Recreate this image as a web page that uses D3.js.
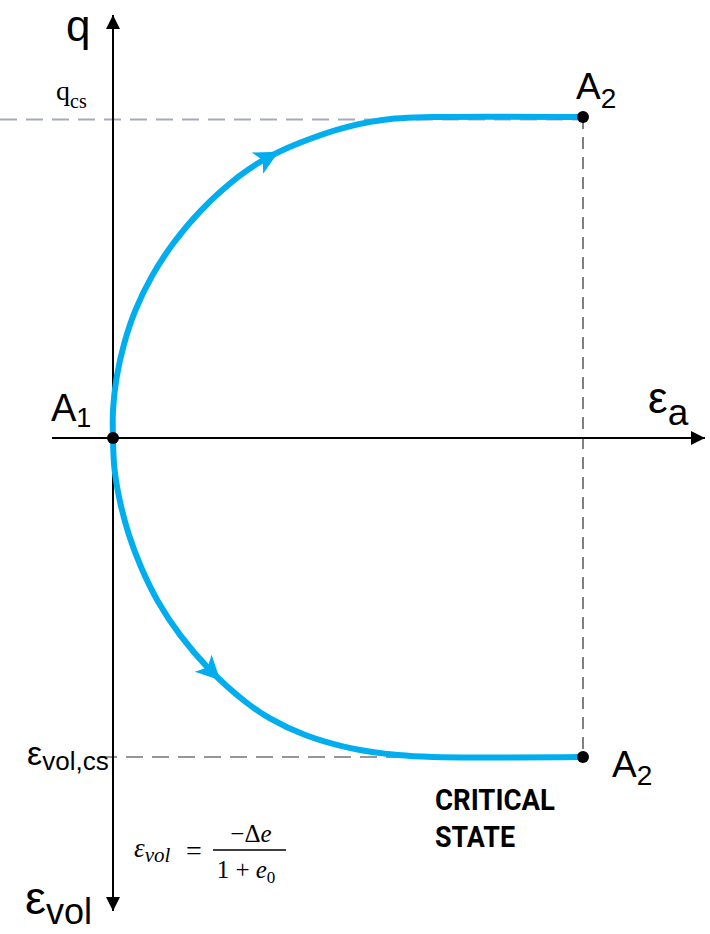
<!DOCTYPE html>
<html><head><meta charset="utf-8">
<script src="https://cdn.jsdelivr.net/npm/d3@7"></script>
<style>body{margin:0;background:#fff}svg{display:block}</style>
</head><body>
<script>
// normalized axial strain (x) vs deviator stress q (upper branch)
const upperX = [0, 0, 0.008, 0.024, 0.048, 0.082, 0.128, 0.188, 0.267, 0.320, 0.395, 0.501, 0.600, 0.68, 1.0];
const upperQ = [0, 0.087, 0.191, 0.295, 0.399, 0.502, 0.606, 0.710, 0.814, 0.866, 0.918, 0.970, 0.995, 1.0, 1.0];
// normalized axial strain (x) vs volumetric strain (lower branch)
const lowerX = [0, 0.003, 0.015, 0.034, 0.061, 0.096, 0.143, 0.203, 0.281, 0.334, 0.409, 0.508, 0.607, 0.68, 1.0];
const lowerV = [0, 0.095, 0.200, 0.304, 0.409, 0.513, 0.618, 0.722, 0.826, 0.879, 0.931, 0.973, 0.994, 1.0, 1.0];
const arrowAtX = [0.33, 0.21]; // arrow positions along each branch

const W = 710, H = 934;
const svg = d3.select("body").append("svg").attr("width", W).attr("height", H);

const x = d3.scaleLinear().domain([0, 1]).range([113, 583]);
const yq = d3.scaleLinear().domain([0, 1]).range([438, 117]);
const yv = d3.scaleLinear().domain([0, 1]).range([438, 757]);

const defs = svg.append("defs");
defs.append("marker").attr("id","ah").attr("viewBox","0 0 10 10").attr("refX",10).attr("refY",5)
  .attr("markerWidth",14).attr("markerHeight",14).attr("markerUnits","userSpaceOnUse").attr("orient","auto")
  .append("path").attr("d","M0,0 L10,5 L0,10 Z").attr("fill","#000");

// dashed guide lines
svg.append("line").attr("x1",0).attr("x2",x(1)).attr("y1",yq(1)+2.5).attr("y2",yq(1)+2.5)
  .attr("stroke","#A4ACB8").attr("stroke-width",2.2).attr("stroke-dasharray","17,9");
svg.append("line").attr("x1",x(1)).attr("x2",x(1)).attr("y1",yq(1)).attr("y2",yv(1))
  .attr("stroke","#808080").attr("stroke-width",2).attr("stroke-dasharray","12,8");
svg.append("line").attr("x1",100).attr("x2",x(1)).attr("y1",yv(1)).attr("y2",yv(1))
  .attr("stroke","#969696").attr("stroke-width",2.2).attr("stroke-dasharray","17,9");

// axes
svg.append("line").attr("x1",52).attr("x2",705).attr("y1",yq(0)).attr("y2",yq(0))
  .attr("stroke","#000").attr("stroke-width",2).attr("marker-end","url(#ah)");
svg.append("line").attr("x1",x(0)).attr("x2",x(0)).attr("y1",yq(0)).attr("y2",15)
  .attr("stroke","#000").attr("stroke-width",2).attr("marker-end","url(#ah)");
svg.append("line").attr("x1",x(0)).attr("x2",x(0)).attr("y1",yq(0)).attr("y2",911)
  .attr("stroke","#000").attr("stroke-width",2).attr("marker-end","url(#ah)");

const blue = "#00AEEF";
const lineQ = d3.line().x(d => x(d[0])).y(d => yq(d[1])).curve(d3.curveCatmullRom.alpha(0.5));
const lineV = d3.line().x(d => x(d[0])).y(d => yv(d[1])).curve(d3.curveCatmullRom.alpha(0.5));

const up = svg.append("path").datum(d3.zip(upperX, upperQ)).attr("d", lineQ)
  .attr("fill","none").attr("stroke",blue).attr("stroke-width",6);
const lo = svg.append("path").datum(d3.zip(lowerX, lowerV)).attr("d", lineV)
  .attr("fill","none").attr("stroke",blue).attr("stroke-width",6);

function arrowOn(pathSel, xv) {
  const node = pathSel.node(), L = node.getTotalLength();
  const tx = x(xv);
  let a = 0, b = L;
  for (let i = 0; i < 40; i++) { const m = (a + b) / 2; if (node.getPointAtLength(m).x < tx) a = m; else b = m; }
  const p = node.getPointAtLength(a), q = node.getPointAtLength(Math.min(L, a + 2));
  const ang = Math.atan2(q.y - p.y, q.x - p.x) * 180 / Math.PI;
  svg.append("path").attr("d","M12,0 L-12,-12 L-6,0 L-12,12 Z").attr("fill",blue)
    .attr("transform",`translate(${p.x},${p.y}) rotate(${ang})`);
}
arrowOn(up, arrowAtX[0]);
arrowOn(lo, arrowAtX[1]);

// points
[[x(0), yq(0)], [x(1), yq(1)], [x(1), yv(1)]].forEach(([cx, cy]) =>
  svg.append("circle").attr("cx",cx).attr("cy",cy).attr("r",6).attr("fill","#000"));

const sans = "Liberation Sans, Arial, sans-serif";
function sub(tx, ty, main, s, size, subSize, dy, family) {
  const t = svg.append("text").attr("x",tx).attr("y",ty).attr("font-family",family || sans)
    .attr("font-size",size).attr("fill","#000");
  t.append("tspan").text(main);
  t.append("tspan").attr("font-size",subSize).attr("dy",dy).text(s);
  return t;
}
svg.append("text").attr("x",66).attr("y",41).attr("font-family",sans).attr("font-size",44).text("q");
sub(56, 100, "q", "cs", 28, 20, 8, "Liberation Serif, serif");
sub(576, 99, "A", "2", 37, 28, 9);
sub(51, 421, "A", "1", 38, 27, 6);
sub(648, 413, "ε", "a", 44, 37, 12);
sub(27, 765, "ε", "vol,cs", 34, 26, 5);
sub(612, 777, "A", "2", 37, 28, 8);
sub(25, 914, "ε", "vol", 47, 36, 10);

const crit = svg.append("g").attr("font-family","Roboto, sans-serif").attr("font-weight","bold").attr("font-size",30);
crit.append("text").attr("x",435).attr("y",810).attr("textLength",120).attr("lengthAdjust","spacingAndGlyphs").text("CRITICAL");
crit.append("text").attr("x",435).attr("y",847).attr("textLength",80).attr("lengthAdjust","spacingAndGlyphs").text("STATE");

// formula
const f = svg.append("g").attr("font-family","Liberation Serif, serif").attr("fill","#000");
const ft = f.append("text").attr("x",134).attr("y",857).attr("font-size",27).attr("font-style","italic");
ft.append("tspan").text("ε");
ft.append("tspan").attr("font-size",21).attr("dy",5).text("vol");
f.append("text").attr("x",186).attr("y",860).attr("font-size",28).text("=");
f.append("line").attr("x1",213).attr("x2",286).attr("y1",850).attr("y2",850).attr("stroke","#000").attr("stroke-width",1.6);
const num = f.append("text").attr("x",251).attr("y",842).attr("font-size",25).attr("text-anchor","middle");
num.append("tspan").text("−Δ");
num.append("tspan").attr("font-style","italic").text("e");
const den = f.append("text").attr("x",246).attr("y",878).attr("font-size",25).attr("text-anchor","middle");
den.append("tspan").text("1 + ");
den.append("tspan").attr("font-style","italic").text("e");
den.append("tspan").attr("font-size",17).attr("dy",5).text("0");
</script>
</body></html>
